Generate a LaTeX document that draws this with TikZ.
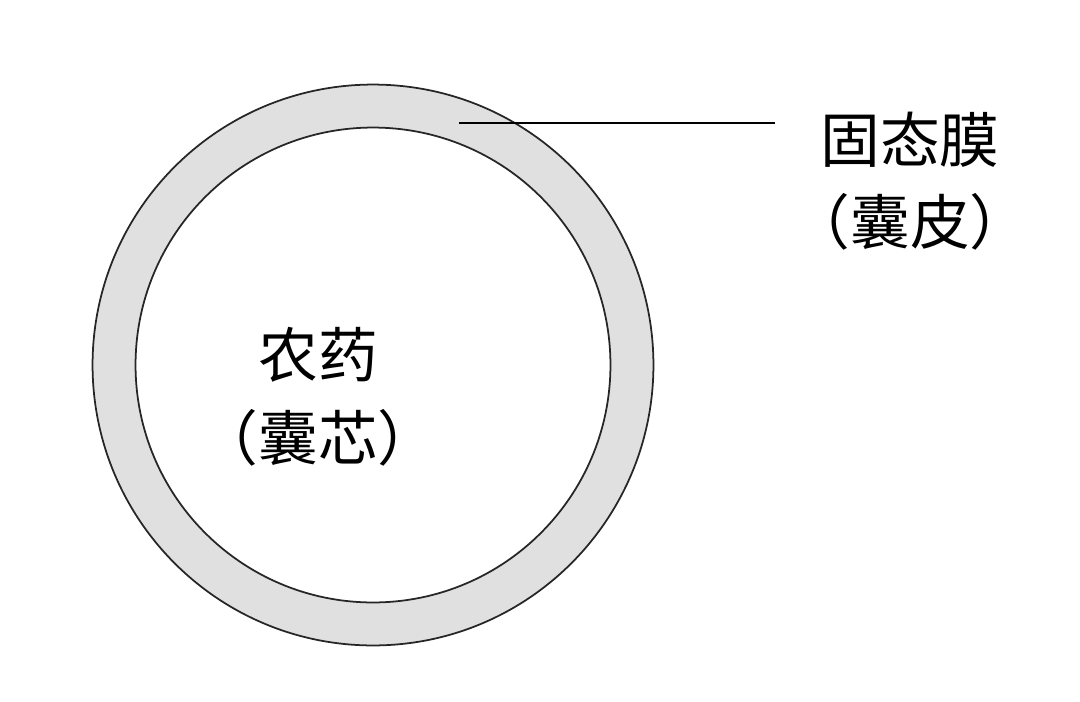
\documentclass[tikz,border=0pt]{standalone}
\usepackage{fontspec}
\usepackage{xcolor}
\usepackage{tikz}
\newfontfamily\cjk{Noto Sans CJK SC}
\definecolor{shellgray}{HTML}{E0E0E0}
\tikzset{
  caplabel/.style={font=\cjk\fontsize{34}{47}\selectfont, align=center, inner sep=0pt},
  ringline/.style={draw=black!85, line width=1pt}
}

\begin{document}
\begin{tikzpicture}[x=0.02cm, y=-0.02cm]
% Define radii
\def\outerR{5.61cm}
\def\innerR{4.75cm}

\useasboundingbox (0,0) rectangle (1080,701);

% Coordinates
\coordinate (C) at (373,365);
\coordinate (P) at (459,123);
\coordinate (Q) at (775,123);

% Shell and core
\draw[ringline, fill=shellgray] (C) circle[radius=\outerR];
\draw[ringline, fill=white] (C) circle[radius=\innerR];

% Labels
\node[caplabel] (core) at (318,397) {农药\\（囊芯）};
\node[caplabel] (skin) at (910,181) {固态膜\\（囊皮）};

% Leader line
\draw[line width=1pt] (P) -- (Q);

\end{tikzpicture}
\end{document}
